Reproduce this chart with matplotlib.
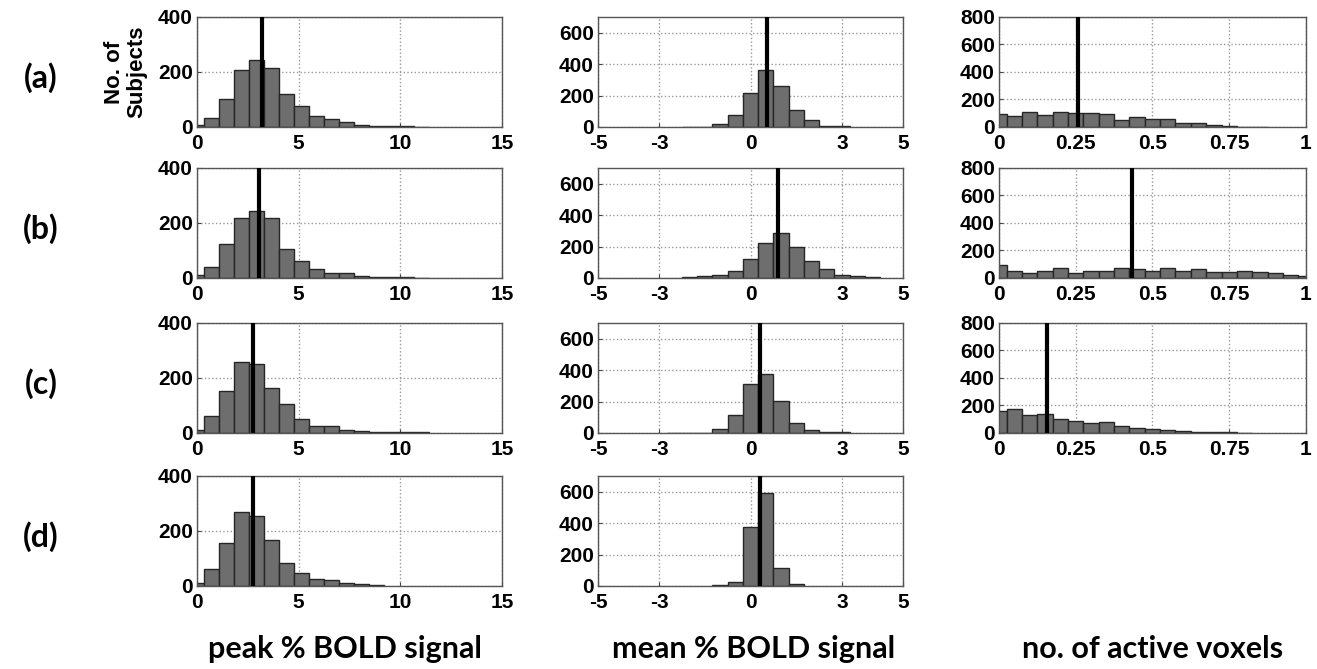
import matplotlib
matplotlib.use('Agg')
import matplotlib.pyplot as plt
import numpy as np

# ---- datos ----
# columna 1: peak % BOLD signal (bins de ancho ~0.737, primer borde interior en 0.33)
peak_bordes_inicio = -0.407
peak_ancho = 0.737
peak_a = [6, 34, 102, 207, 243, 214, 119, 75, 40, 30, 17, 8, 5, 3, 2, 1]
peak_b = [12, 39, 122, 219, 242, 218, 107, 62, 34, 18, 17, 6, 4, 2, 2, 1]
peak_c = [10, 61, 154, 259, 250, 163, 105, 51, 26, 26, 10, 9, 4, 4, 4, 2]
peak_d = [12, 61, 156, 270, 256, 168, 83, 49, 27, 21, 10, 6, 4]
peak_linea = [3.2, 3.05, 2.77, 2.73]

# columna 2: mean % BOLD signal (bins de ancho 0.5)
mean_ancho = 0.5
mean_a_inicio, mean_a = -2.25, [2, 2, 21, 74, 217, 364, 263, 109, 44, 8, 4]
mean_b_inicio, mean_b = -2.25, [4, 10, 17, 43, 118, 225, 289, 197, 107, 54, 21, 10, 4]
mean_c_inicio, mean_c = -2.75, [2, 2, 2, 28, 112, 310, 373, 201, 64, 17, 6, 4]
mean_d_inicio, mean_d = -1.25, [4, 25, 377, 589, 112, 11]
mean_linea = [0.54, 0.91, 0.30, 0.30]

# columna 3: no. of active voxels (centros 0:0.05:1)
vox_ancho = 0.05
vox_a = [96, 82, 108, 89, 108, 101, 101, 92, 53, 75, 60, 55, 29, 26, 14, 7, 3, 2]
vox_b = [91, 49, 37, 54, 69, 37, 54, 54, 69, 62, 54, 69, 54, 62, 42, 42, 54, 44, 37, 22, 12]
vox_c = [159, 176, 129, 141, 105, 85, 73, 78, 51, 37, 29, 24, 15, 7, 5, 5, 2]
vox_linea = [0.258, 0.434, 0.158]

etiquetas_fila = ['(a)', '(b)', '(c)', '(d)']
titulos_col = ['peak % BOLD signal', 'mean % BOLD signal', 'no. of active voxels']

plt.rcParams['font.family'] = ['Liberation Sans', 'DejaVu Sans']
plt.rcParams['font.weight'] = 'bold'
fuente_texto = ['Lato', 'DejaVu Sans']

fig = plt.figure(figsize=(13.17, 6.69), dpi=100)

izq = [0.1496, 0.4541, 0.7585]
ancho = [0.2316, 0.2316, 0.2331]
abajo = [0.8102, 0.5845, 0.3528, 0.1241]
alto = 0.1644


def dibujar_panel(ax, bordes_izq, valores, anchos, linea, xlim, xticks, xlabels, ylim, yticks):
    ax.bar(bordes_izq, valores, width=anchos, align='edge', color='#6e6e6e',
           edgecolor='#262626', linewidth=1.0, zorder=2)
    ax.axvline(linea, color='black', linewidth=3, zorder=3)
    ax.set_xlim(*xlim)
    ax.set_ylim(*ylim)
    ax.set_xticks(xticks)
    ax.set_xticklabels(xlabels)
    ax.set_yticks(yticks)
    ax.grid(True, linestyle=':', color='#999999', linewidth=1.0, zorder=0)
    ax.set_axisbelow(True)
    ax.tick_params(direction='in', length=3, width=0.8, color='#444444', labelsize=15)
    ax.tick_params(axis='x', pad=5)
    ax.tick_params(axis='y', pad=3)
    for s in ax.spines.values():
        s.set_color('#555555')
        s.set_linewidth(1.0)


# columna 1
for fila, (vals, lin) in enumerate(zip([peak_a, peak_b, peak_c, peak_d], peak_linea)):
    ax = fig.add_axes([izq[0], abajo[fila], ancho[0], alto])
    bordes = peak_bordes_inicio + peak_ancho * np.arange(len(vals))
    dibujar_panel(ax, bordes, vals, peak_ancho, lin, (0, 15), [0, 5, 10, 15],
                  ['0', '5', '10', '15'], (0, 400), [0, 200, 400])
    if fila == 0:
        ax.set_ylabel('No. of\nSubjects', fontsize=16, fontweight='bold',
                      labelpad=8, linespacing=1.05)

# columna 2
datos_mean = [(mean_a_inicio, mean_a), (mean_b_inicio, mean_b),
              (mean_c_inicio, mean_c), (mean_d_inicio, mean_d)]
for fila, ((ini, vals), lin) in enumerate(zip(datos_mean, mean_linea)):
    ax = fig.add_axes([izq[1], abajo[fila], ancho[1], alto])
    bordes = ini + mean_ancho * np.arange(len(vals))
    dibujar_panel(ax, bordes, vals, mean_ancho, lin, (-5, 5), [-5, -3, 0, 3, 5],
                  ['-5', '-3', '0', '3', '5'], (0, 700), [0, 200, 400, 600])

# columna 3
for fila, (vals, lin) in enumerate(zip([vox_a, vox_b, vox_c], vox_linea)):
    ax = fig.add_axes([izq[2], abajo[fila], ancho[2], alto])
    bordes = -0.025 + vox_ancho * np.arange(len(vals))
    dibujar_panel(ax, bordes, vals, vox_ancho, lin, (0, 1), [0, 0.25, 0.5, 0.75, 1],
                  ['0', '0.25', '0.5', '0.75', '1'], (0, 800), [0, 200, 400, 600, 800])

# etiquetas de fila
for fila, etq in enumerate(etiquetas_fila):
    fig.text(0.031, abajo[fila] + alto * 0.45, etq, fontsize=23, fontweight='bold',
             fontfamily=fuente_texto, ha='center', va='center')

# titulos de columna abajo
for x, tit in zip([0.262, 0.572, 0.875], titulos_col):
    fig.text(x, 0.03, tit, fontsize=22, fontweight='bold', fontfamily=fuente_texto,
             ha='center', va='center')

plt.savefig('out.png', dpi=100)
plt.close()
